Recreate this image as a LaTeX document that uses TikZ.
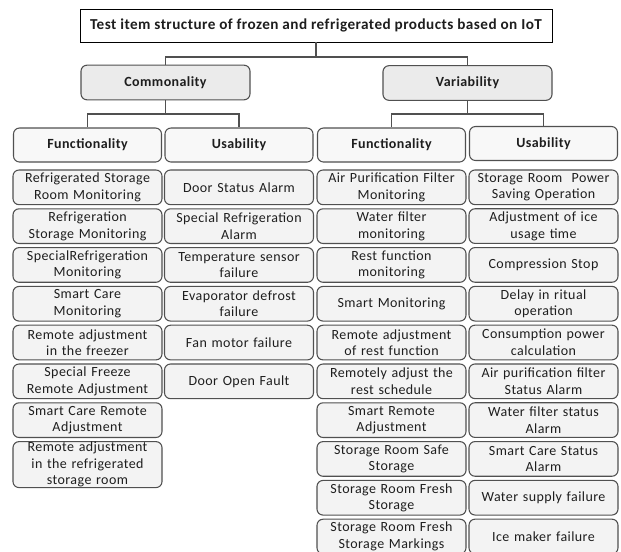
\documentclass[tikz,border=0pt]{standalone}
\usepackage{fontspec}
\setmainfont[LetterSpace=3]{Carlito}
\usepackage{xcolor}
\usepackage{tikz}
\usetikzlibrary{positioning}

\definecolor{edgegray}{HTML}{505050}
\definecolor{boxfill}{HTML}{F3F3F3}
\definecolor{groupfill}{HTML}{EBEBEB}
\definecolor{inkgray}{HTML}{1E1E1E}

\begin{document}
\begin{tikzpicture}[x=0.75pt,y=-0.75pt,node distance=2.3pt,
 rootbox/.style={draw=black,line width=0.6pt,fill=white,minimum width=354pt,minimum height=24.75pt,
  font=\fontsize{11.4pt}{13pt}\selectfont\bfseries,text=inkgray},
 groupbox/.style={draw=edgegray,line width=0.8pt,fill=groupfill,rounded corners=4.5pt,
  minimum width=126.75pt,minimum height=26pt,font=\fontsize{10.5pt}{12.5pt}\selectfont\bfseries,text=inkgray},
 headbox/.style={draw=edgegray,line width=0.8pt,fill=boxfill!60!white,rounded corners=4.5pt,
  minimum width=111pt,minimum height=25.5pt,font=\fontsize{10.5pt}{12.5pt}\selectfont\bfseries,text=inkgray},
 leafbox/.style={draw=edgegray,line width=0.8pt,fill=boxfill,rounded corners=4.5pt,
  text width=107.75pt,inner xsep=2pt,inner ysep=0.2pt,align=center,minimum height=26pt,
  font=\fontsize{10.5pt}{12.5pt}\selectfont,text=inkgray},
 link/.style={draw=edgegray,line width=0.8pt}]
 \useasboundingbox (0,0) rectangle (621,551);

 % top levels
 \node[rootbox] (T) at (316,25.5) {Test item structure of frozen and refrigerated products based on IoT};
 \node[groupbox] (C) at (165.5,82.5) {Commonality};
 \node[groupbox] (V) at (467.5,83) {Variability};
 \node[headbox] (CF) at (87.5,145) {Functionality};
 \node[headbox] (CU) at (239,145) {Usability};
 \node[headbox] (VF) at (391.5,145) {Functionality};
 \node[headbox] (VU) at (543.5,143.5) {Usability};

 % commonality / functionality
 \node[leafbox,below=5.2pt of CF] (CF1) {Refrigerated Storage\\ Room Monitoring};
 \node[leafbox,below=of CF1] (CF2) {Refrigeration\\ Storage Monitoring};
 \node[leafbox,below=of CF2] (CF3) {SpecialRefrigeration\\ Monitoring};
 \node[leafbox,below=of CF3] (CF4) {Smart Care\\ Monitoring};
 \node[leafbox,below=of CF4] (CF5) {Remote adjustment\\ in the freezer};
 \node[leafbox,below=of CF5] (CF6) {Special Freeze\\ Remote Adjustment};
 \node[leafbox,below=of CF6] (CF7) {Smart Care Remote\\ Adjustment};
 \node[leafbox,below=of CF7] (CF8) {Remote adjustment\\ in the refrigerated\\ storage room};

 % commonality / usability
 \node[leafbox,below=5.2pt of CU] (CU1) {Door Status Alarm};
 \node[leafbox,below=of CU1] (CU2) {Special Refrigeration\\ Alarm};
 \node[leafbox,below=of CU2] (CU3) {Temperature sensor\\ failure};
 \node[leafbox,below=of CU3] (CU4) {Evaporator defrost\\ failure};
 \node[leafbox,below=of CU4] (CU5) {Fan motor failure};
 \node[leafbox,below=of CU5] (CU6) {Door Open Fault};

 % variability / functionality
 \node[leafbox,below=5.2pt of VF] (VF1) {Air Purification Filter\\ Monitoring};
 \node[leafbox,below=of VF1] (VF2) {Water filter\\ monitoring};
 \node[leafbox,below=of VF2] (VF3) {Rest function\\ monitoring};
 \node[leafbox,below=of VF3] (VF4) {Smart Monitoring};
 \node[leafbox,below=of VF4] (VF5) {Remote adjustment\\ of rest function};
 \node[leafbox,below=of VF5] (VF6) {Remotely adjust the\\ rest schedule};
 \node[leafbox,below=of VF6] (VF7) {Smart Remote\\ Adjustment};
 \node[leafbox,below=of VF7] (VF8) {Storage Room Safe\\ Storage};
 \node[leafbox,below=of VF8] (VF9) {Storage Room Fresh\\ Storage};
 \node[leafbox,below=of VF9] (VF10) {Storage Room Fresh\\ Storage Markings};

 % variability / usability
 \node[leafbox,below=6.3pt of VU] (VU1) {Storage Room~ Power\\ Saving Operation};
 \node[leafbox,below=of VU1] (VU2) {Adjustment of ice\\ usage time};
 \node[leafbox,below=of VU2] (VU3) {Compression Stop};
 \node[leafbox,below=of VU3] (VU4) {Delay in ritual\\ operation};
 \node[leafbox,below=of VU4] (VU5) {Consumption power\\ calculation};
 \node[leafbox,below=of VU5] (VU6) {Air purification filter\\ Status Alarm};
 \node[leafbox,below=of VU6] (VU7) {Water filter status\\ Alarm};
 \node[leafbox,below=of VU7] (VU8) {Smart Care Status\\ Alarm};
 \node[leafbox,below=of VU8] (VU9) {Water supply failure};
 \node[leafbox,below=of VU9] (VU10) {Ice maker failure};

 % connectors
 \coordinate (J0) at (T.south |- 0,57);
 \coordinate (J1) at (C.south |- 0,114);
 \coordinate (J2) at (V.south |- 0,114);
 \path[link] (T.south) -- (J0) -| (C.north)
  (J0) -| (V.north)
  (C.south) -- (J1) -| (CF.north)
  (J1) -| (CU.north)
  (V.south) -- (J2) -| (VF.north)
  (J2) -| (VU.north);
\end{tikzpicture}
\end{document}
